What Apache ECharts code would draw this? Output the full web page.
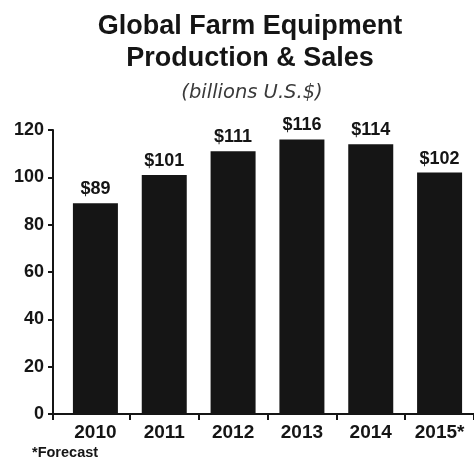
<!DOCTYPE html>
<html>
<head>
<meta charset="utf-8">
<script src="https://cdn.jsdelivr.net/npm/echarts@6/dist/echarts.min.js"></script>
<style>
  html, body { margin: 0; padding: 0; background: #fff; }
  #chart { width: 474px; height: 459px; }
</style>
</head>
<body>
<div id="chart"></div>
<script>
// Global farm equipment production & sales, billions of U.S. dollars
const years = ['2010', '2011', '2012', '2013', '2014', '2015*'];
const sales = [89, 101, 111, 116, 114, 102];
const yTicks = { min: 0, max: 120, interval: 20 };

const FONT = '"Liberation Sans", Arial, sans-serif';
const INK = '#151515';

const chart = echarts.init(document.getElementById('chart'), null, { renderer: 'canvas' });

chart.setOption({
  backgroundColor: '#fff',
  animation: false,
  title: [
    {
      text: 'Global Farm Equipment\nProduction & Sales',
      left: 245, top: 6, textAlign: 'center',
      textStyle: { fontFamily: FONT, fontWeight: 'bold', fontSize: 27, lineHeight: 32, color: INK }
    },
    {
      text: '(billions U.S.$)',
      left: 247, top: 78, textAlign: 'center',
      textStyle: { fontFamily: '"DejaVu Sans", sans-serif', fontStyle: 'italic', fontWeight: 'normal', fontSize: 19.5, color: '#3a3a3a' }
    },
    {
      text: '*Forecast',
      left: 27, top: 440,
      textStyle: { fontFamily: FONT, fontWeight: 'bold', fontSize: 14.5, color: INK }
    }
  ],
  grid: [
    // bars
    { left: 61, right: -4, top: 130, bottom: 45 },
    // value axis and baseline
    { left: 53, right: -4, top: 130, bottom: 45 }
  ],
  xAxis: [
    {
      gridIndex: 0, type: 'category', data: years,
      axisLine: { show: false },
      axisTick: { show: true, length: 6, interval: (i) => i > 0, lineStyle: { color: INK, width: 2 } },
      axisLabel: { fontFamily: FONT, fontWeight: 'bold', fontSize: 19, color: INK, margin: 9 }
    },
    {
      gridIndex: 1, type: 'value', min: 0, max: 1, interval: 1,
      axisLine: { show: true, lineStyle: { color: INK, width: 2 } },
      axisTick: { show: true, length: 6, lineStyle: { color: INK, width: 2 } },
      axisLabel: { show: false }, splitLine: { show: false }
    }
  ],
  yAxis: [
    {
      gridIndex: 0, type: 'value', min: yTicks.min, max: yTicks.max, interval: yTicks.interval,
      show: false, splitLine: { show: false }
    },
    {
      gridIndex: 1, type: 'value', min: yTicks.min, max: yTicks.max, interval: yTicks.interval,
      axisLine: { show: true, lineStyle: { color: INK, width: 2 } },
      axisTick: { show: true, length: 5, lineStyle: { color: INK, width: 2 } },
      axisLabel: { fontFamily: FONT, fontWeight: 'bold', fontSize: 18, color: INK, margin: 9 },
      splitLine: { show: false }
    }
  ],
  series: [
    {
      type: 'bar', xAxisIndex: 0, yAxisIndex: 0,
      data: sales, barWidth: 45,
      itemStyle: { color: INK },
      label: {
        show: true, position: 'top', distance: 5,
        formatter: p => '$' + p.value,
        fontFamily: FONT, fontWeight: 'bold', fontSize: 18, color: INK
      }
    }
  ]
});
</script>
</body>
</html>
